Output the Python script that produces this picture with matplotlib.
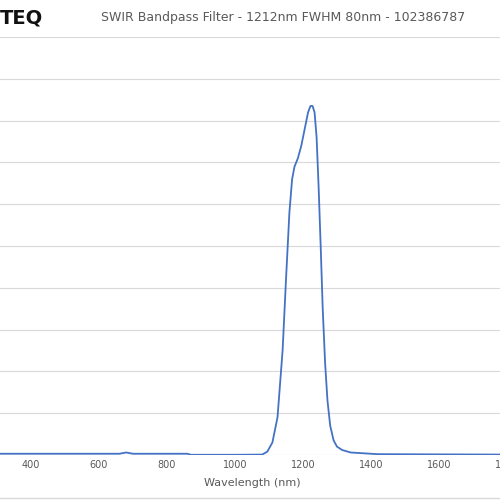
import matplotlib
matplotlib.use("Agg")
import matplotlib.pyplot as plt

# transmission curve
wavelength = [300, 500, 660, 680, 700, 860, 870, 1000, 1080, 1095, 1110, 1125, 1140, 1150,
              1160, 1168, 1175, 1185, 1195, 1205, 1215, 1222, 1228, 1234, 1240, 1246,
              1252, 1258, 1265, 1272, 1280, 1290, 1300, 1315, 1340, 1380, 1420, 1600, 1800]
transmission = [0.3, 0.3, 0.3, 0.6, 0.3, 0.3, 0.05, 0.05, 0.1, 0.8, 3, 9, 25, 42,
                58, 66, 69, 71, 74, 78, 82, 83.5, 83.5, 82, 76, 64,
                50, 35, 22, 13, 7, 3.5, 2, 1.2, 0.6, 0.4, 0.2, 0.15, 0.1]

fig = plt.figure(figsize=(5, 5), dpi=100)
ax = fig.add_axes([-3 / 500, 45 / 500, 510 / 500, 418 / 500])
ax.plot(wavelength, transmission, color="#4472c4", linewidth=1.3)
ax.set_xlim(300, 1800)
ax.set_ylim(0, 100)
ax.set_yticks(range(0, 101, 10))
ax.set_xticks(range(400, 1801, 200))
ax.grid(axis="y", color="#d9d9d9", linewidth=0.8)
ax.set_axisbelow(True)
for s in ax.spines.values():
    s.set_visible(False)
ax.tick_params(length=0, labelsize=7, colors="#595959")
ax.set_yticklabels([])
ax.set_xlabel("Wavelength (nm)", fontsize=8, color="#595959", labelpad=6)

fig.text(0.0, 0.964, "TEQ", fontsize=14, fontweight="bold", ha="left", va="center", color="#111111")
fig.text(0.566, 0.964, "SWIR Bandpass Filter - 1212nm FWHM 80nm - 102386787",
         fontsize=9, ha="center", va="center", color="#595959")
fig.add_artist(plt.Line2D([0, 1], [0.004, 0.004], color="#d9d9d9", linewidth=1))

fig.savefig("out.png", dpi=100)
